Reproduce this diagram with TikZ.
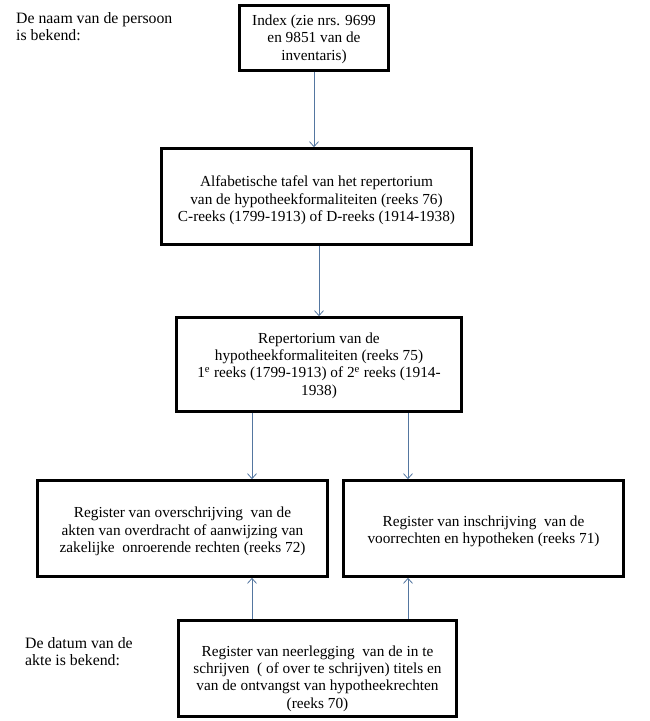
\documentclass[tikz,border=0pt]{standalone}
\usepackage{fontspec}
\setmainfont{Liberation Serif}
\newfontfamily\tms{Liberation Serif}
\usepackage{tikz}
\usetikzlibrary{arrows.meta,positioning,calc}
\definecolor{pijl}{RGB}{84,118,160}

\begin{document}
\begin{tikzpicture}[x=1pt,y=-1pt,
box/.style={draw,line width=2.6pt,inner sep=0pt},
tekst/.style={inner sep=0pt,align=center,yshift=-#1,
font=\tms\fontsize{15.3}{17.4}\selectfont},
lab/.style={anchor=north west,inner sep=0pt,align=left,
font=\tms\fontsize{15.8}{17.4}\selectfont},
pl/.style={draw=pijl,line width=0.8pt,-{Straight Barb[length=5pt,width=9pt]}}]
\useasboundingbox (0,0) rectangle (649,721);

\node (l1) at (16,12) [lab] {De naam van de persoon\\is bekend:};
\node (l2) at (25,637) [lab] {De datum van de\\akte is bekend:};

\node (b1) at (314,38) [box,minimum width=149,minimum height=65,
label={[tekst=1pt]center:{Index (zie nrs. 9699\\en 9851 van de\\inventaris)}}] {};
\node (b2) at (316.5,196.5) [box,minimum width=310,minimum height=96,
label={[tekst=4pt]center:{Alfabetische tafel van het repertorium\\van de hypotheekformaliteiten (reeks 76)\\C-reeks (1799-1913) of D-reeks (1914-1938)}}] {};
\node (b3) at (319,364.5) [box,minimum width=285,minimum height=94,
label={[tekst=1pt]center:{Repertorium van de\\hypotheekformaliteiten (reeks 75)\\1\textsuperscript{e} reeks (1799-1913) of 2\textsuperscript{e} reeks (1914-\\1938)}}] {};
\node (b4) at (182.5,528.5) [box,minimum width=290,minimum height=96,
label={[tekst=3pt]center:{Register van overschrijving\ \ van de\\akten van overdracht of aanwijzing van\\zakelijke\ \ onroerende rechten (reeks 72)}}] {};
\node (b5) at (483.5,528.5) [box,minimum width=280,minimum height=96,
label={[tekst=3pt]center:{Register van inschrijving\ \ van de\\voorrechten en hypotheken (reeks 71)}}] {};
\node (b6) at (317.5,668.5) [box,minimum width=278,minimum height=96,
label={[tekst=10pt]center:{Register van neerlegging\ \ van de in te\\schrijven\ \ ( of over te schrijven) titels en\\van de ontvangst van hypotheekrechten\\(reeks 70)}}] {};

\coordinate (xl) at (252,0);
\coordinate (xr) at (408,0);

\draw[pl] (b1.south) -- (b1.south |- b2.north);
\draw[pl] (b2.south -| b3.north) -- (b3.north);
\draw[pl] (b3.south -| xl) -- (b4.north -| xl);
\draw[pl] (b3.south -| xr) -- (b5.north -| xr);
\draw[pl] (b6.north -| xl) -- (b4.south -| xl);
\draw[pl] (b6.north -| xr) -- (b5.south -| xr);

\end{tikzpicture}
\end{document}
